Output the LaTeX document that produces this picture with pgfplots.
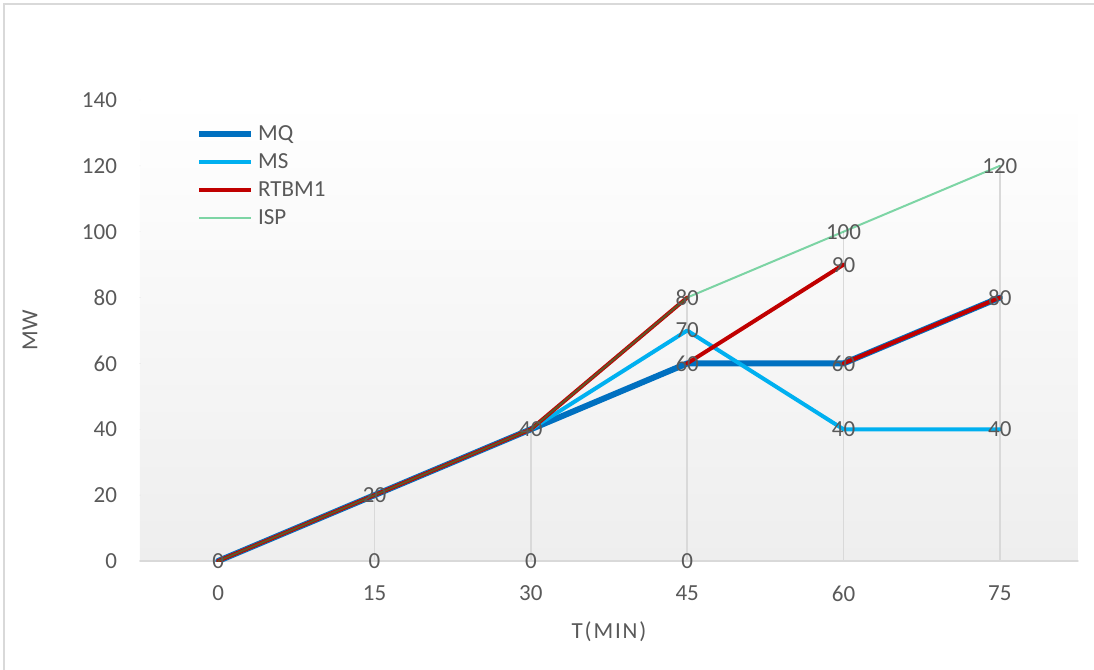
\documentclass[border=0pt]{standalone}
\usepackage{pgfplots}
\pgfplotsset{compat=1.18}
\usepackage{fontspec}
\setmainfont{Carlito}
\definecolor{mq}{HTML}{0070C0}
\definecolor{ms}{HTML}{00B0F0}
\definecolor{rtbm}{HTML}{C00000}
\definecolor{isp}{HTML}{00B050}
\definecolor{lblgray}{HTML}{595959}
\definecolor{linegray}{HTML}{D9D9D9}
\definecolor{bggray}{HTML}{EEEEEE}
\newcommand{\lbl}{\fontsize{11.5}{13}\selectfont}

\begin{document}
\begin{tikzpicture}
\useasboundingbox (0,0) rectangle (547pt,335pt);
\draw[linegray, line width=0.75pt] (2pt,-10pt) rectangle (560pt,333pt);
\begin{axis}[
    at={(70pt,54.5pt)}, anchor=south west,
    scale only axis, width=469pt, height=230.5pt,
    xmin=-0.5, xmax=5.5, ymin=0, ymax=140,
    xtick={0,...,5}, xticklabels={0,15,30,45,60,75},
    ytick={0,20,...,140},
    axis x line*=bottom, axis y line*=left,
    x axis line style={draw=linegray, line width=0.75pt, -},
    y axis line style={draw=none},
    major tick length=0pt,
    axis background/.style={top color=white, bottom color=bggray},
    /pgf/number format/assume math mode=true,
    tick label style={font=\lbl, text=lblgray},
    yticklabel style={xshift=-8pt},
    xticklabel style={yshift=-9pt},
    xlabel={\addfontfeature{LetterSpace=8}T(MIN)}, ylabel={MW},
    label style={font=\lbl, text=lblgray},
    xlabel style={at={(axis description cs:0.5,-0.154)}, anchor=center},
    ylabel style={at={(axis description cs:-0.1173,0.5)}, anchor=center},
    line cap=round, line join=round,
    legend cell align=left,
    legend style={at={(axis description cs:0.053,0.963)}, anchor=north west,
        draw=none, fill=none, font=\lbl, text=lblgray, row sep=1pt},
    legend image code/.code={\draw[#1] (0pt,0pt) -- (26pt,0pt);},
]
% drop lines
\addplot[ycomb, draw=linegray, line width=0.75pt, no markers, forget plot]
    coordinates {(1,20) (2,40) (3,80) (4,100) (5,120)};
\addplot[mq, line width=3pt, no markers]
    coordinates {(0,0) (1,20) (2,40) (3,60) (4,60) (5,80)};
\addplot[ms, line width=2pt, no markers]
    coordinates {(0,0) (1,20) (2,40) (3,70) (4,40) (5,40)};
\addplot[rtbm, line width=2pt, no markers]
    coordinates {(0,0) (1,20) (2,40) (3,80)};
\addplot[isp, line width=1pt, opacity=0.5, no markers]
    coordinates {(0,0) (1,20) (2,40) (3,80) (4,100) (5,120)};
\addplot[rtbm, line width=2pt, no markers, forget plot]
    coordinates {(3,60) (4,90)};
\addplot[rtbm, line width=2pt, no markers, forget plot]
    coordinates {(4,60) (5,80)};
% data labels
\addplot[draw=none, no markers, forget plot, nodes near coords,
    every node near coord/.append style={anchor=center, font=\lbl, text=lblgray}]
    coordinates {(0,0) (1,20) (1,0) (2,40) (2,0) (3,80) (3,70) (3,60) (3,0)
                 (4,100) (4,90) (4,60) (4,40) (5,120) (5,80) (5,40)};
\legend{MQ,MS,RTBM1,ISP}
\end{axis}
\end{tikzpicture}
\end{document}
